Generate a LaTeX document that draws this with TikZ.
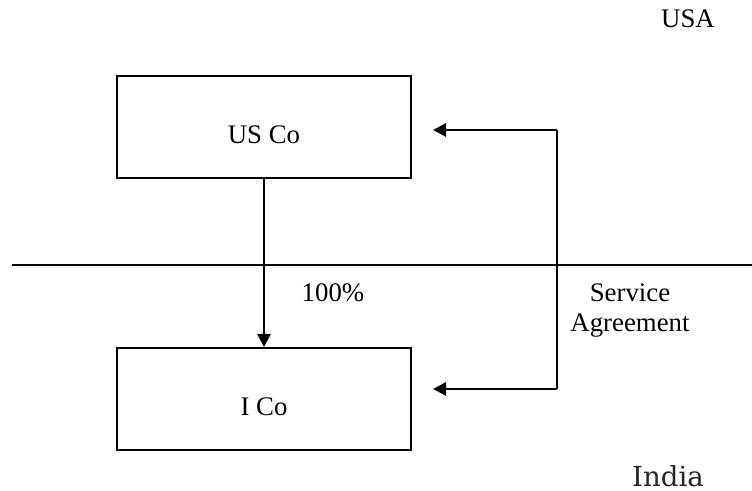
\documentclass[tikz,border=0pt]{standalone}
\usepackage{fontspec}
\setmainfont{Liberation Serif}
\newfontfamily\indiafont{DejaVu Serif}
\usetikzlibrary{arrows.meta}

\begin{document}
\begin{tikzpicture}[x=0.5pt, y=-0.5pt,
		cobox/.style={draw, line width=1pt, minimum width=147pt, minimum height=51pt, inner sep=0pt},
		lbl/.style={anchor=base, inner sep=0pt, font=\fontsize{13.4}{15}\selectfont},
		arr/.style={line width=1.4pt, -{Triangle[length=6.5pt,width=6.5pt]}}]
		\useasboundingbox (0,0) rectangle (752,491);
		
		\coordinate (A) at (12,265);
		\coordinate (B) at (752,265);
		\coordinate (C) at (557,130);
		\coordinate (D) at (557,389);
		
		%Boxes
		\node[cobox] (usco) at (264,127) {};
		\node[cobox] (ico) at (264,399) {};
		\node[lbl] (uslbl) at (264,144) {US Co};
		\node[lbl] (ilbl) at (264,416) {I Co};
		
		%Border
		\draw[line width=1pt] (A) -- (B);
		
		%Ownership
		\draw[arr] (usco) -- (ico);
		\node[lbl] (pct) at (333,302) {100\%};
		
		%Service agreement
		\draw[arr, shorten >=10.5pt] (C) -- (usco.east |- C);
		\draw[arr, shorten >=10.5pt] (D) -- (ico.east |- D);
		\draw[line width=1.4pt] (C) -- (D);
		\node[lbl, align=center] (svc) at (630,332) {Service\\Agreement};
		
		\node[lbl] (usa) at (688,28) {USA};
		\node[lbl, font=\indiafont\fontsize{13.8}{15}\selectfont, text=black!85] (india) at (668,487) {India};
		
\end{tikzpicture}
\end{document}
